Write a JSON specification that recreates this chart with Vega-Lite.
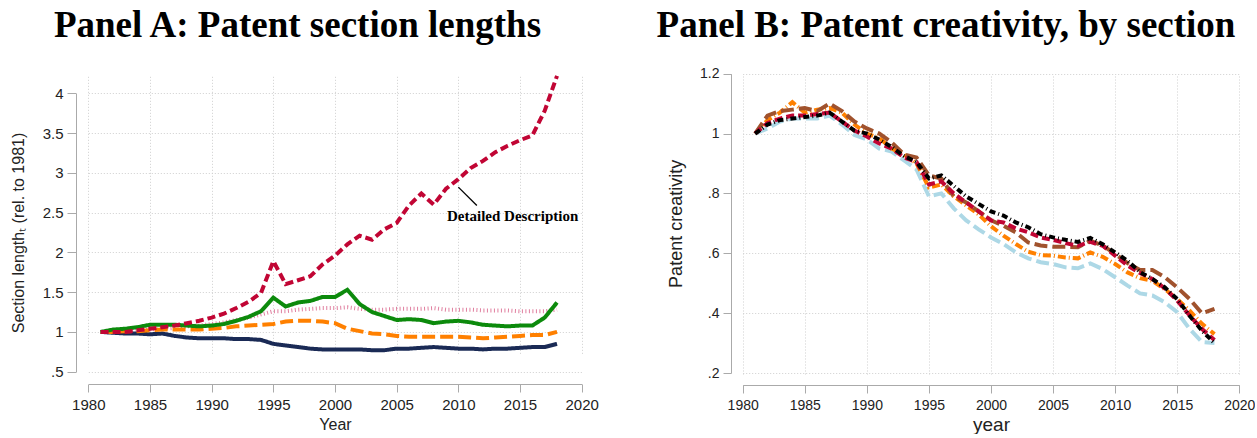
{
  "$schema": "https://vega.github.io/schema/vega-lite/v6.json",
  "background": "white",
  "padding": {"left": 10, "top": 7, "right": 0, "bottom": 0},
  "spacing": 57,
  "resolve": {"scale": {"color": "independent", "strokeDash": "independent"}},
  "config": {
    "view": {"stroke": null},
    "axis": {
      "grid": true,
      "gridColor": "#cfcfcf",
      "gridDash": [1, 2],
      "gridWidth": 1,
      "domainColor": "#aaaaaa",
      "tickColor": "#aaaaaa",
      "labelFont": "Liberation Sans",
      "labelColor": "#222222",
      "labelFlush": false,
      "titleFont": "Liberation Sans",
      "titleFontWeight": "normal",
      "titleColor": "#222222"
    },
    "title": {"font": "Liberation Serif", "fontWeight": "bold", "color": "#000000", "anchor": "middle"}
  },
  "datasets": {
    "a": [
      {"s":"Summary","year":1981,"v":1.00},{"s":"Summary","year":1982,"v":1.00},{"s":"Summary","year":1983,"v":1.01},{"s":"Summary","year":1984,"v":1.02},{"s":"Summary","year":1985,"v":1.03},{"s":"Summary","year":1986,"v":1.04},{"s":"Summary","year":1987,"v":1.05},{"s":"Summary","year":1988,"v":1.07},{"s":"Summary","year":1989,"v":1.08},{"s":"Summary","year":1990,"v":1.10},{"s":"Summary","year":1991,"v":1.12},{"s":"Summary","year":1992,"v":1.15},{"s":"Summary","year":1993,"v":1.18},{"s":"Summary","year":1994,"v":1.22},{"s":"Summary","year":1995,"v":1.26},{"s":"Summary","year":1996,"v":1.26},{"s":"Summary","year":1997,"v":1.28},{"s":"Summary","year":1998,"v":1.29},{"s":"Summary","year":1999,"v":1.30},{"s":"Summary","year":2000,"v":1.30},{"s":"Summary","year":2001,"v":1.31},{"s":"Summary","year":2002,"v":1.29},{"s":"Summary","year":2003,"v":1.28},{"s":"Summary","year":2004,"v":1.28},{"s":"Summary","year":2005,"v":1.29},{"s":"Summary","year":2006,"v":1.29},{"s":"Summary","year":2007,"v":1.29},{"s":"Summary","year":2008,"v":1.30},{"s":"Summary","year":2009,"v":1.28},{"s":"Summary","year":2010,"v":1.28},{"s":"Summary","year":2011,"v":1.28},{"s":"Summary","year":2012,"v":1.27},{"s":"Summary","year":2013,"v":1.27},{"s":"Summary","year":2014,"v":1.27},{"s":"Summary","year":2015,"v":1.26},{"s":"Summary","year":2016,"v":1.26},{"s":"Summary","year":2017,"v":1.26},{"s":"Summary","year":2018,"v":1.28},
      {"s":"Title","year":1981,"v":1.00},{"s":"Title","year":1982,"v":0.99},{"s":"Title","year":1983,"v":0.98},{"s":"Title","year":1984,"v":0.98},{"s":"Title","year":1985,"v":0.97},{"s":"Title","year":1986,"v":0.98},{"s":"Title","year":1987,"v":0.95},{"s":"Title","year":1988,"v":0.93},{"s":"Title","year":1989,"v":0.92},{"s":"Title","year":1990,"v":0.92},{"s":"Title","year":1991,"v":0.92},{"s":"Title","year":1992,"v":0.91},{"s":"Title","year":1993,"v":0.91},{"s":"Title","year":1994,"v":0.90},{"s":"Title","year":1995,"v":0.85},{"s":"Title","year":1996,"v":0.83},{"s":"Title","year":1997,"v":0.81},{"s":"Title","year":1998,"v":0.79},{"s":"Title","year":1999,"v":0.78},{"s":"Title","year":2000,"v":0.78},{"s":"Title","year":2001,"v":0.78},{"s":"Title","year":2002,"v":0.78},{"s":"Title","year":2003,"v":0.77},{"s":"Title","year":2004,"v":0.77},{"s":"Title","year":2005,"v":0.79},{"s":"Title","year":2006,"v":0.79},{"s":"Title","year":2007,"v":0.80},{"s":"Title","year":2008,"v":0.81},{"s":"Title","year":2009,"v":0.80},{"s":"Title","year":2010,"v":0.79},{"s":"Title","year":2011,"v":0.79},{"s":"Title","year":2012,"v":0.78},{"s":"Title","year":2013,"v":0.79},{"s":"Title","year":2014,"v":0.79},{"s":"Title","year":2015,"v":0.80},{"s":"Title","year":2016,"v":0.81},{"s":"Title","year":2017,"v":0.81},{"s":"Title","year":2018,"v":0.85},
      {"s":"Abstract","year":1981,"v":1.00},{"s":"Abstract","year":1982,"v":1.00},{"s":"Abstract","year":1983,"v":1.01},{"s":"Abstract","year":1984,"v":1.01},{"s":"Abstract","year":1985,"v":1.02},{"s":"Abstract","year":1986,"v":1.03},{"s":"Abstract","year":1987,"v":1.03},{"s":"Abstract","year":1988,"v":1.03},{"s":"Abstract","year":1989,"v":1.03},{"s":"Abstract","year":1990,"v":1.04},{"s":"Abstract","year":1991,"v":1.05},{"s":"Abstract","year":1992,"v":1.07},{"s":"Abstract","year":1993,"v":1.08},{"s":"Abstract","year":1994,"v":1.09},{"s":"Abstract","year":1995,"v":1.10},{"s":"Abstract","year":1996,"v":1.13},{"s":"Abstract","year":1997,"v":1.14},{"s":"Abstract","year":1998,"v":1.14},{"s":"Abstract","year":1999,"v":1.13},{"s":"Abstract","year":2000,"v":1.11},{"s":"Abstract","year":2001,"v":1.04},{"s":"Abstract","year":2002,"v":1.01},{"s":"Abstract","year":2003,"v":0.98},{"s":"Abstract","year":2004,"v":0.97},{"s":"Abstract","year":2005,"v":0.95},{"s":"Abstract","year":2006,"v":0.94},{"s":"Abstract","year":2007,"v":0.94},{"s":"Abstract","year":2008,"v":0.94},{"s":"Abstract","year":2009,"v":0.94},{"s":"Abstract","year":2010,"v":0.94},{"s":"Abstract","year":2011,"v":0.93},{"s":"Abstract","year":2012,"v":0.92},{"s":"Abstract","year":2013,"v":0.93},{"s":"Abstract","year":2014,"v":0.94},{"s":"Abstract","year":2015,"v":0.95},{"s":"Abstract","year":2016,"v":0.96},{"s":"Abstract","year":2017,"v":0.96},{"s":"Abstract","year":2018,"v":1.00},
      {"s":"Claims","year":1981,"v":1.00},{"s":"Claims","year":1982,"v":1.03},{"s":"Claims","year":1983,"v":1.04},{"s":"Claims","year":1984,"v":1.06},{"s":"Claims","year":1985,"v":1.09},{"s":"Claims","year":1986,"v":1.09},{"s":"Claims","year":1987,"v":1.09},{"s":"Claims","year":1988,"v":1.08},{"s":"Claims","year":1989,"v":1.07},{"s":"Claims","year":1990,"v":1.08},{"s":"Claims","year":1991,"v":1.10},{"s":"Claims","year":1992,"v":1.14},{"s":"Claims","year":1993,"v":1.19},{"s":"Claims","year":1994,"v":1.26},{"s":"Claims","year":1995,"v":1.43},{"s":"Claims","year":1996,"v":1.32},{"s":"Claims","year":1997,"v":1.37},{"s":"Claims","year":1998,"v":1.39},{"s":"Claims","year":1999,"v":1.44},{"s":"Claims","year":2000,"v":1.44},{"s":"Claims","year":2001,"v":1.53},{"s":"Claims","year":2002,"v":1.35},{"s":"Claims","year":2003,"v":1.25},{"s":"Claims","year":2004,"v":1.20},{"s":"Claims","year":2005,"v":1.15},{"s":"Claims","year":2006,"v":1.16},{"s":"Claims","year":2007,"v":1.15},{"s":"Claims","year":2008,"v":1.11},{"s":"Claims","year":2009,"v":1.13},{"s":"Claims","year":2010,"v":1.14},{"s":"Claims","year":2011,"v":1.12},{"s":"Claims","year":2012,"v":1.09},{"s":"Claims","year":2013,"v":1.08},{"s":"Claims","year":2014,"v":1.07},{"s":"Claims","year":2015,"v":1.08},{"s":"Claims","year":2016,"v":1.08},{"s":"Claims","year":2017,"v":1.18},{"s":"Claims","year":2018,"v":1.37},
      {"s":"Detailed Description","year":1981,"v":1.00},{"s":"Detailed Description","year":1982,"v":1.00},{"s":"Detailed Description","year":1983,"v":1.00},{"s":"Detailed Description","year":1984,"v":1.02},{"s":"Detailed Description","year":1985,"v":1.04},{"s":"Detailed Description","year":1986,"v":1.06},{"s":"Detailed Description","year":1987,"v":1.08},{"s":"Detailed Description","year":1988,"v":1.11},{"s":"Detailed Description","year":1989,"v":1.14},{"s":"Detailed Description","year":1990,"v":1.18},{"s":"Detailed Description","year":1991,"v":1.23},{"s":"Detailed Description","year":1992,"v":1.30},{"s":"Detailed Description","year":1993,"v":1.38},{"s":"Detailed Description","year":1994,"v":1.49},{"s":"Detailed Description","year":1995,"v":1.89},{"s":"Detailed Description","year":1996,"v":1.60},{"s":"Detailed Description","year":1997,"v":1.65},{"s":"Detailed Description","year":1998,"v":1.70},{"s":"Detailed Description","year":1999,"v":1.85},{"s":"Detailed Description","year":2000,"v":1.96},{"s":"Detailed Description","year":2001,"v":2.10},{"s":"Detailed Description","year":2002,"v":2.21},{"s":"Detailed Description","year":2003,"v":2.16},{"s":"Detailed Description","year":2004,"v":2.29},{"s":"Detailed Description","year":2005,"v":2.37},{"s":"Detailed Description","year":2006,"v":2.59},{"s":"Detailed Description","year":2007,"v":2.74},{"s":"Detailed Description","year":2008,"v":2.60},{"s":"Detailed Description","year":2009,"v":2.80},{"s":"Detailed Description","year":2010,"v":2.92},{"s":"Detailed Description","year":2011,"v":3.06},{"s":"Detailed Description","year":2012,"v":3.15},{"s":"Detailed Description","year":2013,"v":3.26},{"s":"Detailed Description","year":2014,"v":3.34},{"s":"Detailed Description","year":2015,"v":3.41},{"s":"Detailed Description","year":2016,"v":3.47},{"s":"Detailed Description","year":2017,"v":3.78},{"s":"Detailed Description","year":2018,"v":4.22}
    ],
    "b": [
      {"s":"Summary","year":1981,"v":1.00},{"s":"Summary","year":1982,"v":1.017},{"s":"Summary","year":1983,"v":1.04},{"s":"Summary","year":1984,"v":1.05},{"s":"Summary","year":1985,"v":1.05},{"s":"Summary","year":1986,"v":1.05},{"s":"Summary","year":1987,"v":1.06},{"s":"Summary","year":1988,"v":1.03},{"s":"Summary","year":1989,"v":0.995},{"s":"Summary","year":1990,"v":0.98},{"s":"Summary","year":1991,"v":0.95},{"s":"Summary","year":1992,"v":0.94},{"s":"Summary","year":1993,"v":0.91},{"s":"Summary","year":1994,"v":0.88},{"s":"Summary","year":1995,"v":0.79},{"s":"Summary","year":1996,"v":0.80},{"s":"Summary","year":1997,"v":0.75},{"s":"Summary","year":1998,"v":0.71},{"s":"Summary","year":1999,"v":0.68},{"s":"Summary","year":2000,"v":0.653},{"s":"Summary","year":2001,"v":0.631},{"s":"Summary","year":2002,"v":0.603},{"s":"Summary","year":2003,"v":0.583},{"s":"Summary","year":2004,"v":0.57},{"s":"Summary","year":2005,"v":0.564},{"s":"Summary","year":2006,"v":0.553},{"s":"Summary","year":2007,"v":0.55},{"s":"Summary","year":2008,"v":0.566},{"s":"Summary","year":2009,"v":0.547},{"s":"Summary","year":2010,"v":0.52},{"s":"Summary","year":2011,"v":0.492},{"s":"Summary","year":2012,"v":0.466},{"s":"Summary","year":2013,"v":0.459},{"s":"Summary","year":2014,"v":0.436},{"s":"Summary","year":2015,"v":0.403},{"s":"Summary","year":2016,"v":0.347},{"s":"Summary","year":2017,"v":0.303},{"s":"Summary","year":2018,"v":0.30},
      {"s":"Abstract","year":1981,"v":1.00},{"s":"Abstract","year":1982,"v":1.045},{"s":"Abstract","year":1983,"v":1.07},{"s":"Abstract","year":1984,"v":1.105},{"s":"Abstract","year":1985,"v":1.07},{"s":"Abstract","year":1986,"v":1.08},{"s":"Abstract","year":1987,"v":1.085},{"s":"Abstract","year":1988,"v":1.07},{"s":"Abstract","year":1989,"v":1.03},{"s":"Abstract","year":1990,"v":1.00},{"s":"Abstract","year":1991,"v":0.985},{"s":"Abstract","year":1992,"v":0.95},{"s":"Abstract","year":1993,"v":0.93},{"s":"Abstract","year":1994,"v":0.90},{"s":"Abstract","year":1995,"v":0.82},{"s":"Abstract","year":1996,"v":0.83},{"s":"Abstract","year":1997,"v":0.79},{"s":"Abstract","year":1998,"v":0.76},{"s":"Abstract","year":1999,"v":0.73},{"s":"Abstract","year":2000,"v":0.69},{"s":"Abstract","year":2001,"v":0.659},{"s":"Abstract","year":2002,"v":0.631},{"s":"Abstract","year":2003,"v":0.605},{"s":"Abstract","year":2004,"v":0.594},{"s":"Abstract","year":2005,"v":0.592},{"s":"Abstract","year":2006,"v":0.586},{"s":"Abstract","year":2007,"v":0.583},{"s":"Abstract","year":2008,"v":0.603},{"s":"Abstract","year":2009,"v":0.588},{"s":"Abstract","year":2010,"v":0.564},{"s":"Abstract","year":2011,"v":0.536},{"s":"Abstract","year":2012,"v":0.517},{"s":"Abstract","year":2013,"v":0.508},{"s":"Abstract","year":2014,"v":0.48},{"s":"Abstract","year":2015,"v":0.447},{"s":"Abstract","year":2016,"v":0.408},{"s":"Abstract","year":2017,"v":0.364},{"s":"Abstract","year":2018,"v":0.33},
      {"s":"Claims","year":1981,"v":1.00},{"s":"Claims","year":1982,"v":1.06},{"s":"Claims","year":1983,"v":1.075},{"s":"Claims","year":1984,"v":1.08},{"s":"Claims","year":1985,"v":1.085},{"s":"Claims","year":1986,"v":1.075},{"s":"Claims","year":1987,"v":1.10},{"s":"Claims","year":1988,"v":1.075},{"s":"Claims","year":1989,"v":1.04},{"s":"Claims","year":1990,"v":1.017},{"s":"Claims","year":1991,"v":1.00},{"s":"Claims","year":1992,"v":0.97},{"s":"Claims","year":1993,"v":0.93},{"s":"Claims","year":1994,"v":0.92},{"s":"Claims","year":1995,"v":0.86},{"s":"Claims","year":1996,"v":0.85},{"s":"Claims","year":1997,"v":0.79},{"s":"Claims","year":1998,"v":0.77},{"s":"Claims","year":1999,"v":0.74},{"s":"Claims","year":2000,"v":0.71},{"s":"Claims","year":2001,"v":0.692},{"s":"Claims","year":2002,"v":0.67},{"s":"Claims","year":2003,"v":0.636},{"s":"Claims","year":2004,"v":0.626},{"s":"Claims","year":2005,"v":0.622},{"s":"Claims","year":2006,"v":0.622},{"s":"Claims","year":2007,"v":0.62},{"s":"Claims","year":2008,"v":0.642},{"s":"Claims","year":2009,"v":0.626},{"s":"Claims","year":2010,"v":0.598},{"s":"Claims","year":2011,"v":0.567},{"s":"Claims","year":2012,"v":0.544},{"s":"Claims","year":2013,"v":0.544},{"s":"Claims","year":2014,"v":0.52},{"s":"Claims","year":2015,"v":0.486},{"s":"Claims","year":2016,"v":0.447},{"s":"Claims","year":2017,"v":0.399},{"s":"Claims","year":2018,"v":0.414},
      {"s":"Detailed Description","year":1981,"v":1.00},{"s":"Detailed Description","year":1982,"v":1.035},{"s":"Detailed Description","year":1983,"v":1.05},{"s":"Detailed Description","year":1984,"v":1.06},{"s":"Detailed Description","year":1985,"v":1.06},{"s":"Detailed Description","year":1986,"v":1.065},{"s":"Detailed Description","year":1987,"v":1.07},{"s":"Detailed Description","year":1988,"v":1.04},{"s":"Detailed Description","year":1989,"v":1.01},{"s":"Detailed Description","year":1990,"v":0.99},{"s":"Detailed Description","year":1991,"v":0.967},{"s":"Detailed Description","year":1992,"v":0.95},{"s":"Detailed Description","year":1993,"v":0.92},{"s":"Detailed Description","year":1994,"v":0.905},{"s":"Detailed Description","year":1995,"v":0.83},{"s":"Detailed Description","year":1996,"v":0.84},{"s":"Detailed Description","year":1997,"v":0.80},{"s":"Detailed Description","year":1998,"v":0.77},{"s":"Detailed Description","year":1999,"v":0.74},{"s":"Detailed Description","year":2000,"v":0.71},{"s":"Detailed Description","year":2001,"v":0.703},{"s":"Detailed Description","year":2002,"v":0.683},{"s":"Detailed Description","year":2003,"v":0.67},{"s":"Detailed Description","year":2004,"v":0.653},{"s":"Detailed Description","year":2005,"v":0.645},{"s":"Detailed Description","year":2006,"v":0.634},{"s":"Detailed Description","year":2007,"v":0.625},{"s":"Detailed Description","year":2008,"v":0.638},{"s":"Detailed Description","year":2009,"v":0.625},{"s":"Detailed Description","year":2010,"v":0.592},{"s":"Detailed Description","year":2011,"v":0.559},{"s":"Detailed Description","year":2012,"v":0.534},{"s":"Detailed Description","year":2013,"v":0.514},{"s":"Detailed Description","year":2014,"v":0.483},{"s":"Detailed Description","year":2015,"v":0.442},{"s":"Detailed Description","year":2016,"v":0.392},{"s":"Detailed Description","year":2017,"v":0.347},{"s":"Detailed Description","year":2018,"v":0.31},
      {"s":"All sections","year":1981,"v":1.00},{"s":"All sections","year":1982,"v":1.03},{"s":"All sections","year":1983,"v":1.045},{"s":"All sections","year":1984,"v":1.05},{"s":"All sections","year":1985,"v":1.055},{"s":"All sections","year":1986,"v":1.06},{"s":"All sections","year":1987,"v":1.07},{"s":"All sections","year":1988,"v":1.04},{"s":"All sections","year":1989,"v":1.01},{"s":"All sections","year":1990,"v":1.00},{"s":"All sections","year":1991,"v":0.98},{"s":"All sections","year":1992,"v":0.955},{"s":"All sections","year":1993,"v":0.925},{"s":"All sections","year":1994,"v":0.905},{"s":"All sections","year":1995,"v":0.85},{"s":"All sections","year":1996,"v":0.86},{"s":"All sections","year":1997,"v":0.825},{"s":"All sections","year":1998,"v":0.79},{"s":"All sections","year":1999,"v":0.765},{"s":"All sections","year":2000,"v":0.74},{"s":"All sections","year":2001,"v":0.726},{"s":"All sections","year":2002,"v":0.703},{"s":"All sections","year":2003,"v":0.687},{"s":"All sections","year":2004,"v":0.664},{"s":"All sections","year":2005,"v":0.653},{"s":"All sections","year":2006,"v":0.645},{"s":"All sections","year":2007,"v":0.638},{"s":"All sections","year":2008,"v":0.651},{"s":"All sections","year":2009,"v":0.63},{"s":"All sections","year":2010,"v":0.603},{"s":"All sections","year":2011,"v":0.575},{"s":"All sections","year":2012,"v":0.537},{"s":"All sections","year":2013,"v":0.514},{"s":"All sections","year":2014,"v":0.486},{"s":"All sections","year":2015,"v":0.447},{"s":"All sections","year":2016,"v":0.391},{"s":"All sections","year":2017,"v":0.341},{"s":"All sections","year":2018,"v":0.30}
    ]
  },
  "hconcat": [
    {
      "width": 517,
      "height": 320,
      "title": {"text": "Panel A: Patent section lengths", "fontSize": 37, "offset": 19, "dx": -37},
      "layer": [
        {
          "data": {"name": "a"},
          "mark": {"type": "line", "strokeWidth": 4},
          "encoding": {
            "x": {"field": "year", "type": "quantitative",
                  "scale": {"domain": [1980, 2020], "range": [12.3, 505.7], "nice": false, "zero": false},
                  "axis": {"values": [1980, 1985, 1990, 1995, 2000, 2005, 2010, 2015, 2020], "format": "d", "title": "Year",
                           "tickSize": 8, "labelFontSize": 15, "labelPadding": 5, "titleFontSize": 16, "titlePadding": 4}},
            "y": {"field": "v", "type": "quantitative",
                  "scale": {"domain": [0.5, 4], "range": [307.7, 29.3], "nice": false, "zero": false},
                  "axis": {"values": [0.5, 1, 1.5, 2, 2.5, 3, 3.5, 4],
                           "labelExpr": "datum.value < 1 ? replace(format(datum.value, '.1f'), '0.', '.') : format(datum.value, '~g')",
                           "title": "Section lengthₜ (rel. to 1981)",
                           "tickSize": 9, "labelFontSize": 15, "labelPadding": 4, "titleFontSize": 16, "titlePadding": 16}},
            "color": {"field": "s", "type": "nominal", "legend": null,
                      "scale": {"domain": ["Detailed Description", "Claims", "Summary", "Abstract", "Title"],
                                "range": ["#c10534", "#0c8a0c", "#e07f9f", "#ff8000", "#1a2a55"]}},
            "strokeDash": {"field": "s", "type": "nominal", "legend": null,
                           "scale": {"domain": ["Detailed Description", "Claims", "Summary", "Abstract", "Title"],
                                     "range": [[8, 4], [1, 0], [1, 2.5], [13, 5], [1, 0]]}}
          }
        },
        {
          "data": {"values": [{}]},
          "mark": {"type": "rule", "color": "#000000", "strokeWidth": 1.3},
          "encoding": {
            "x": {"datum": 2010.0, "type": "quantitative"},
            "y": {"datum": 2.82, "type": "quantitative"},
            "x2": {"datum": 2011.5},
            "y2": {"datum": 2.59}
          }
        },
        {
          "data": {"values": [{}]},
          "mark": {"type": "text", "text": "Detailed Description", "font": "Liberation Serif", "fontWeight": "bold", "fontSize": 15, "align": "center", "baseline": "middle", "color": "#000000"},
          "encoding": {
            "x": {"datum": 2014.4, "type": "quantitative"},
            "y": {"datum": 2.46, "type": "quantitative"}
          }
        }
      ]
    },
    {
      "width": 520,
      "height": 321,
      "title": {"text": "Panel B: Patent creativity, by section", "fontSize": 37, "offset": 19, "dx": -45},
      "data": {"name": "b"},
      "mark": {"type": "line", "strokeWidth": 4},
      "encoding": {
        "x": {"field": "year", "type": "quantitative",
              "scale": {"domain": [1980, 2020], "range": [11.7, 508.3], "nice": false, "zero": false},
              "axis": {"values": [1980, 1985, 1990, 1995, 2000, 2005, 2010, 2015, 2020], "format": "d", "title": "year",
                       "tickSize": 8, "labelFontSize": 14, "labelPadding": 5, "titleFontSize": 19, "titlePadding": 3}},
        "y": {"field": "v", "type": "quantitative",
              "scale": {"domain": [0.2, 1.2], "range": [309, 9.7], "nice": false, "zero": false},
              "axis": {"values": [0.2, 0.4, 0.6, 0.8, 1, 1.2],
                       "labelExpr": "datum.value < 1 ? replace(format(datum.value, '.1f'), '0.', '.') : format(datum.value, '~g')",
                       "title": "Patent creativity",
                       "tickSize": 8, "labelFontSize": 14, "labelPadding": 4, "titleFontSize": 18, "titlePadding": 14}},
        "color": {"field": "s", "type": "nominal", "legend": null,
                  "scale": {"domain": ["All sections", "Detailed Description", "Claims", "Abstract", "Summary"],
                            "range": ["#000000", "#c10534", "#a0522d", "#ff8000", "#add8e6"]}},
        "strokeDash": {"field": "s", "type": "nominal", "legend": null,
                       "scale": {"domain": ["All sections", "Detailed Description", "Claims", "Abstract", "Summary"],
                                 "range": [[6, 3, 1, 3], [8, 4], [13, 5], [8, 3, 1, 3], [13, 5]]}}
      }
    }
  ]
}
